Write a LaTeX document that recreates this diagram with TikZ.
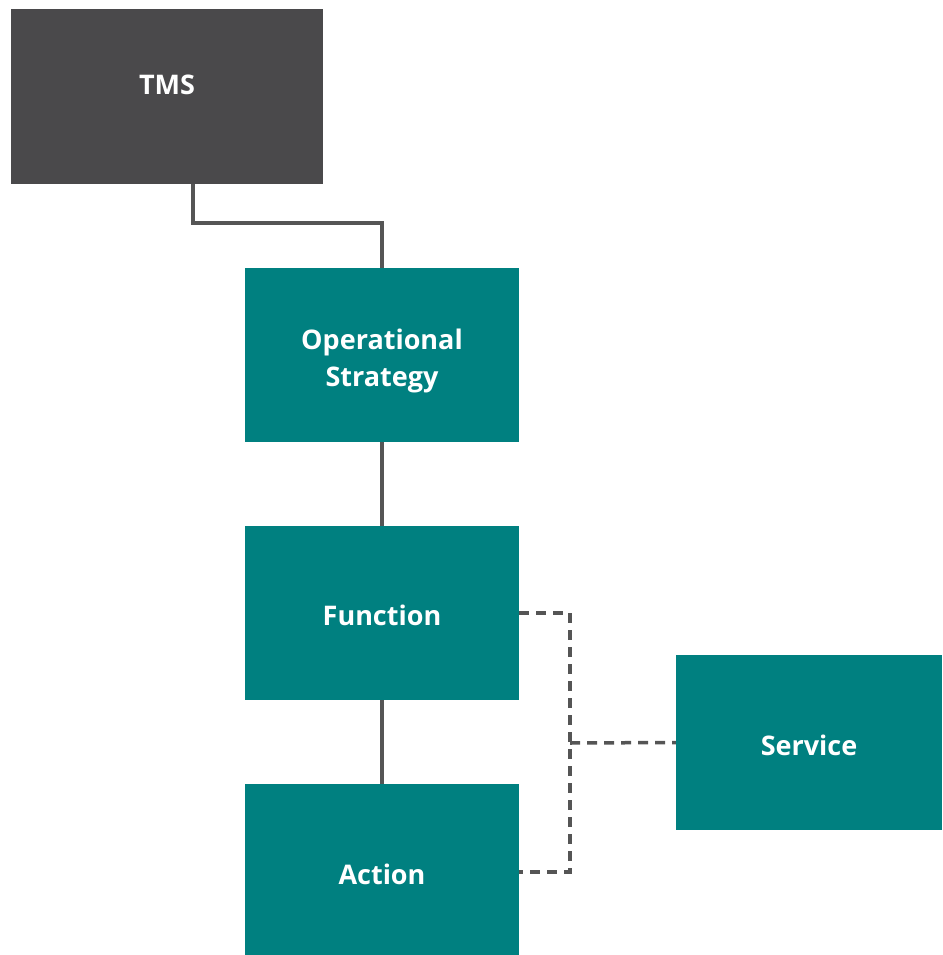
\documentclass[tikz,border=0pt]{standalone}
\usepackage{fontspec}
\setmainfont{Open Sans}
\definecolor{teal}{HTML}{008080}
\definecolor{darkbox}{HTML}{4A494B}
\definecolor{linegray}{HTML}{555555}
\tikzset{
  box/.style={rectangle, draw=none, inner sep=0pt, minimum width=274pt, minimum height=174pt, fill=teal},
  lbl/.style={text=white, font=\fontsize{27}{37}\selectfont\bfseries, align=center},
  solidline/.style={draw=linegray, line width=3.5pt},
  dashline/.style={draw=linegray, line width=3.5pt, dash pattern=on 10pt off 7pt},
}
\begin{document}
\begin{tikzpicture}[x=1pt,y=-1pt]
\useasboundingbox (0,0) rectangle (942,955);
% boxes
\node[box, fill=darkbox, minimum width=312pt, minimum height=175pt] (tms) at (167,96.5) {};
\node[box] (ops) at (382,355) {};
\node[box] (func) at (382,613) {};
\node[box, minimum height=176pt] (action) at (382,872) {};
\node[box, minimum width=266pt, minimum height=175pt] (service) at (809,742.5) {};
% labels
\node[lbl] (tmsl) at (167,85) {TMS};
\node[lbl] (opsl) at (382,361) {Operational\\Strategy};
\node[lbl] (funcl) at (382,615) {Function};
\node[lbl] (actionl) at (382,874) {Action};
\node[lbl] (servicel) at (809,745) {Service};
% solid connectors
\coordinate (tmsout) at (193,184);
\draw[solidline] (tmsout) -- ++(0,39) -| (ops.north);
\draw[solidline] (ops.south) -- (func.north);
\draw[solidline] (func.south) -- (action.north);
% dashed connectors
\coordinate (bus) at (570,743);
\draw[dashline] (func.east) -- (func.east -| bus) -- (action.east -| bus) -- (action.east);
\draw[dashline] (bus) -- (service.west);
\end{tikzpicture}
\end{document}
